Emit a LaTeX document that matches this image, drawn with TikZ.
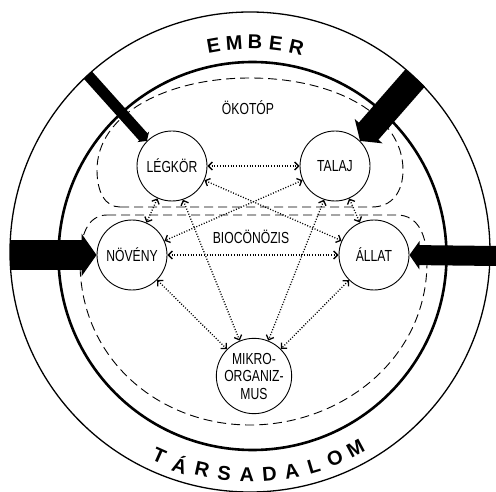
\documentclass[tikz,border=0pt]{standalone}
\usepackage{fontspec}
\setmainfont{Liberation Sans}
\newfontfamily\labfont{Liberation Sans}[FakeStretch=0.76]
\usetikzlibrary{arrows.meta}

\begin{document}
\begin{tikzpicture}[
  x=1pt, y=1pt,
  eco/.style={circle, draw, line width=0.9pt, fill=white, minimum size=70pt, inner sep=0pt, align=center, font=\labfont\fontsize{16}{17.5}\selectfont},
  zone/.style={line width=0.9pt, dash pattern=on 9pt off 5pt},
  link/.style={<->, >={Straight Barb[length=4pt,width=8pt]}, line width=1.3pt, dash pattern=on 1pt off 1.7pt},
  push/.style={line width=#1, -{Triangle[length=0pt 0.5, width=0pt 1.4]}},
  ring/.style={font=\bfseries\fontsize{20}{20}\selectfont, inner sep=0pt},
  tag/.style={font=\labfont\fontsize{16}{17}\selectfont}
]
\useasboundingbox (0,0) rectangle (496,-492);

% rings
\coordinate (oc) at (250,-252);
\draw[line width=1.3pt] (oc) circle[radius=240];
\draw[line width=2.6pt] (252.5,-256) circle[radius=194];

\foreach \ch [count=\i from 0] in {E,M,B,E,R}
  \node[ring, rotate=10-5.7*\i] (ember\i) at ([shift={(100-5.7*\i:210)}]oc) {\ch};
\foreach \ch [count=\i from 0] in {T,Á,R,S,A,D,A,L,O,M}
  \node[ring, rotate=-24+5.8*\i] (tars\i) at ([shift={(-114+5.8*\i:223)}]oc) {\ch};

% zones
\draw[zone] (120,-207) -- (372,-207) .. controls (392,-207) and (403,-192) .. (403,-170)
  .. controls (403,-115) and (335,-78) .. (250,-78)
  .. controls (165,-78) and (97,-115) .. (97,-170)
  .. controls (97,-192) and (105,-207) .. (120,-207);
\draw[zone] (107,-215) -- (397,-215) .. controls (418,-215) and (427,-235) .. (427,-262)
  .. controls (427,-360) and (340,-425) .. (250,-425)
  .. controls (160,-425) and (80,-360) .. (80,-262)
  .. controls (80,-235) and (88,-215) .. (107,-215);

\node[tag] (okotop) at (248,-108) {ÖKOTÓP};
\node[tag] (bio) at (251,-237) {BIOCÖNÖZIS};

% components
\node[eco] (legkor) at (172,-166) {LÉGKÖR};
\node[eco] (talaj) at (335,-166) {TALAJ};
\node[eco] (noveny) at (132,-255) {NÖVÉNY};
\node[eco] (allat) at (374,-255) {ÁLLAT};
\node[eco, minimum size=72pt] (mikro) at (254,-376) {MIKRO-\\ORGANIZ-\\MUS};

\draw[link] (legkor) -- (talaj);
\draw[link] (noveny) -- (allat);
\draw[link] (legkor) -- (noveny);
\draw[link] (talaj) -- (allat);
\draw[link] (legkor) -- (allat);
\draw[link] (talaj) -- (noveny);
\draw[link] (noveny) -- (mikro);
\draw[link] (allat) -- (mikro);
\draw[link] (legkor.-72) -- (mikro.112);
\draw[link] (talaj.-108) -- (mikro.68);

% inputs
\coordinate (tl) at ([shift={(132.5:240)}]oc);
\coordinate (tr) at ([shift={(46.5:240)}]oc);
\coordinate (ml) at (10,-255);
\coordinate (mr) at (496,-256);
\draw[push=11pt] (tl) -- (legkor.135);
\draw[push=26pt] (tr) -- (talaj.45);
\draw[push=30pt] (ml) -- (noveny.west);
\draw[push=20pt] (mr) -- (allat.east);
\end{tikzpicture}
\end{document}
